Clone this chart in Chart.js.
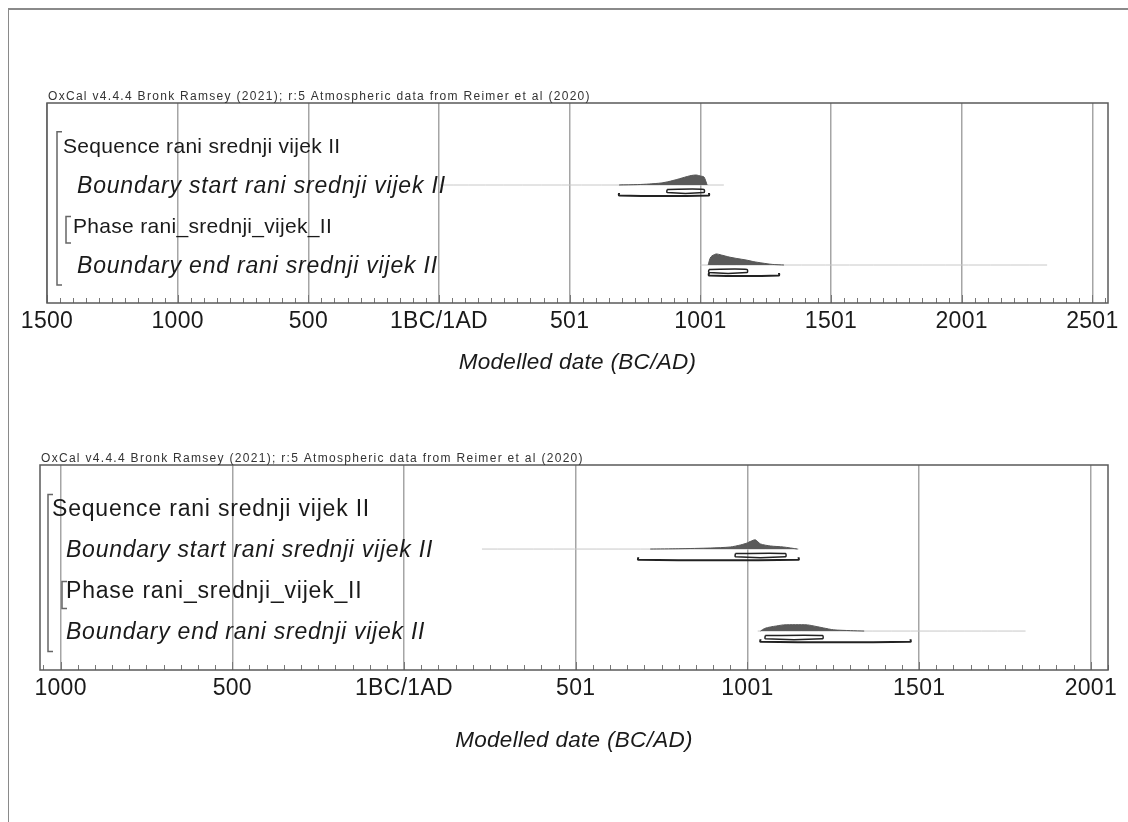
<!DOCTYPE html>
<html>
<head>
<meta charset="utf-8">
<title>OxCal model – rani srednji vijek II</title>
<script src="https://cdn.jsdelivr.net/npm/chart.js@4.4.0/dist/chart.umd.min.js"></script>
<style>
  html, body { margin: 0; padding: 0; background: #fff; }
  body { width: 1128px; height: 822px; position: relative; overflow: hidden; }
  .frame { position: absolute; left: 8px; top: 8px; right: 0; bottom: 0;
           border-top: 2px solid #8a8a8a; border-left: 1px solid #8a8a8a; }
  .plot { position: absolute; left: 0; width: 1128px; height: 320px; }
</style>
</head>
<body>
<div class="frame"></div>
<div class="plot" style="top:80px"><canvas id="modelA"></canvas></div>
<div class="plot" style="top:445px"><canvas id="modelB"></canvas></div>
<script>
// --- rows (same structure in both runs) ---
const rowLabels = [
  "Sequence rani srednji vijek II",
  "Boundary start rani srednji vijek II",
  "Phase rani_srednji_vijek_II",
  "Boundary end rani srednji vijek II"
];
const rowItalic = [false, true, false, true];
const header = "OxCal v4.4.4 Bronk Ramsey (2021); r:5 Atmospheric data from Reimer et al (2020)";

// --- run A (upper plot) ---
const aTicks = [-1500, -1000, -500, 0, 500, 1000, 1500, 2000, 2500];
const aTickLabels = ["1500", "1000", "500", "1BC/1AD", "501", "1001", "1501", "2001", "2501"];
const aRange = [-1500, 2560];

const aStartYears   = [689, 760, 804, 850, 880, 910, 930, 950, 965, 985, 1000, 1014, 1026];
const aStartDensity = [0, 0.04, 0.1, 0.2, 0.35, 0.55, 0.7, 0.85, 0.95, 1.0, 0.9, 0.8, 0];
const aStartPrior   = [0, 1090];
const aStart68      = [873, 1014];
const aStart95      = [689, 1033];

const aEndYears   = [1030, 1040, 1060, 1080, 1110, 1140, 1175, 1205, 1236, 1275, 1320];
const aEndDensity = [0, 0.8, 1.1, 1.0, 0.8, 0.65, 0.5, 0.33, 0.2, 0.06, 0];
const aEndPrior   = [1000, 2327];
const aEnd68      = [1033, 1179];
const aEnd95      = [1033, 1301];

// --- run B (lower plot) ---
const bTicks = [-1000, -500, 0, 500, 1000, 1500, 2000];
const bTickLabels = ["1000", "500", "1BC/1AD", "501", "1001", "1501", "2001"];
const bRange = [-1060, 2050];

const bStartYears   = [717, 800, 892, 950, 980, 1000, 1009, 1023, 1038, 1067, 1105, 1146];
const bStartDensity = [0, 0.03, 0.1, 0.2, 0.4, 0.6, 0.75, 0.9, 0.5, 0.3, 0.2, 0];
const bStartPrior   = [227, 1149];
const bStart68      = [965, 1111];
const bStart95      = [682, 1149];

const bEndYears   = [1038, 1050, 1067, 1085, 1105, 1140, 1175, 1200, 1222, 1251, 1300, 1340];
const bEndDensity = [0, 0.25, 0.4, 0.5, 0.6, 0.62, 0.6, 0.45, 0.3, 0.12, 0.04, 0];
const bEndPrior   = [1030, 1810];
const bEnd68      = [1052, 1219];
const bEnd95      = [1038, 1475];

const FONT = '"Liberation Sans", Arial, Helvetica, sans-serif';

// one posterior row: prior line, filled distribution, 68.3% box, 95.4% bar
function boundaryRow(row, years, density, prior, r68, r95) {
  const base = row + 0.05;
  const h = 0.25;
  return [
    {
      data: [{ x: r68[0], y: row + 0.16 }, { x: r68[1], y: row + 0.16 },
             { x: r68[1], y: row + 0.24 }, { x: r68[0], y: row + 0.24 },
             { x: r68[0], y: row + 0.16 }],
      borderColor: "#222", borderWidth: 1.5
    },
    {
      data: [{ x: r95[0], y: row + 0.25 }, { x: r95[0], y: row + 0.31 },
             { x: r95[1], y: row + 0.31 }, { x: r95[1], y: row + 0.25 }],
      borderColor: "#222", borderWidth: 2
    },
    {
      data: years.map((yr, i) => ({ x: yr, y: base - density[i] * h })),
      borderColor: "#555", borderWidth: 1, backgroundColor: "#5a5a5a",
      fill: { value: base }
    },
    {
      data: [{ x: prior[0], y: base }, { x: prior[1], y: base }],
      borderColor: "#c8c8c8", borderWidth: 1
    }
  ];
}

// frame, minor ticks, brackets, row names and header
const oxcalDecor = {
  id: "oxcalDecor",
  beforeDraw(chart) {
    chart.ctx.letterSpacing = "0.3px";
  },
  afterDraw(chart, args, opts) {
    const { ctx, chartArea: a, scales: { x, y } } = chart;
    ctx.save();

    // minor ticks every 50 years, pointing up from the axis
    ctx.strokeStyle = "#777";
    ctx.lineWidth = 1;
    ctx.beginPath();
    for (let v = Math.ceil(x.min / 50) * 50; v <= x.max; v += 50) {
      const px = Math.round(x.getPixelForValue(v)) + 0.5;
      ctx.moveTo(px, a.bottom);
      ctx.lineTo(px, a.bottom - (v % 500 === 0 ? 8 : 5));
    }
    ctx.stroke();

    // plot frame
    ctx.strokeStyle = "#5a5a5a";
    ctx.lineWidth = 1.5;
    ctx.strokeRect(a.left, a.top, a.right - a.left, a.bottom - a.top);

    // sequence / phase brackets
    ctx.strokeStyle = "#666";
    ctx.lineWidth = 1.5;
    opts.brackets.forEach(b => {
      const x0 = a.left + b.dx;
      ctx.beginPath();
      ctx.moveTo(x0 + b.tick, y.getPixelForValue(b.from));
      ctx.lineTo(x0, y.getPixelForValue(b.from));
      ctx.lineTo(x0, y.getPixelForValue(b.to));
      ctx.lineTo(x0 + b.tick, y.getPixelForValue(b.to));
      ctx.stroke();
    });

    // row names
    ctx.fillStyle = "#1a1a1a";
    ctx.textBaseline = "middle";
    rowLabels.forEach((name, i) => {
      const f = rowItalic[i] ? opts.italicFont : opts.plainFont;
      ctx.font = (rowItalic[i] ? "italic " : "") + f.size + "px " + FONT;
      ctx.letterSpacing = f.spacing + "px";
      ctx.fillText(name, a.left + opts.labelX[i], y.getPixelForValue(i + 1.1));
    });

    // header line above the frame
    ctx.font = "12px " + FONT;
    ctx.letterSpacing = "1.3px";
    ctx.textBaseline = "alphabetic";
    ctx.fillStyle = "#333";
    ctx.fillText(header, a.left + 1, a.top - 3);

    ctx.restore();
  }
};

function makeModelChart(id, ticks, tickLabels, range, rows, decor, pad, axisH, titlePad) {
  return new Chart(document.getElementById(id), {
    type: "scatter",
    data: { datasets: rows },
    plugins: [oxcalDecor],
    options: {
      responsive: true,
      maintainAspectRatio: false,
      animation: false,
      layout: { padding: pad },
      datasets: { scatter: { showLine: true, pointRadius: 0, tension: 0.25 } },
      plugins: { legend: { display: false }, tooltip: { enabled: false }, oxcalDecor: decor },
      scales: {
        x: {
          type: "linear",
          min: range[0],
          max: range[1],
          afterBuildTicks: s => { s.ticks = ticks.map(v => ({ value: v })); },
          afterFit: s => { s.height = axisH; },
          grid: { color: "#a5a5a5", lineWidth: 1.5, drawTicks: false },
          border: { display: false },
          ticks: {
            autoSkip: false,
            maxRotation: 0,
            padding: 5,
            color: "#1a1a1a",
            font: { family: FONT, size: 23 },
            callback: v => tickLabels[ticks.indexOf(v)]
          },
          title: {
            display: true,
            text: "Modelled date (BC/AD)",
            color: "#1a1a1a",
            font: { family: FONT, size: 22.5, style: "italic" },
            padding: { top: 4, bottom: titlePad }
          }
        },
        y: { type: "linear", display: false, reverse: true, min: 0, max: 5 }
      }
    }
  });
}

makeModelChart("modelA", aTicks, aTickLabels, aRange,
  [...boundaryRow(2, aStartYears, aStartDensity, aStartPrior, aStart68, aStart95),
   ...boundaryRow(4, aEndYears, aEndDensity, aEndPrior, aEnd68, aEnd95)],
  {
    labelX: [16, 30, 26, 30],
    plainFont: { size: 21, spacing: 0.3 },
    italicFont: { size: 23, spacing: 0.8 },
    brackets: [{ dx: 10, tick: 5, from: 0.72, to: 4.55 }, { dx: 19, tick: 5, from: 2.84, to: 3.5 }]
  },
  { top: 23, bottom: 17, left: 47, right: 20 }, 80, 7);

makeModelChart("modelB", bTicks, bTickLabels, bRange,
  [...boundaryRow(2, bStartYears, bStartDensity, bStartPrior, bStart68, bStart95),
   ...boundaryRow(4, bEndYears, bEndDensity, bEndPrior, bEnd68, bEnd95)],
  {
    labelX: [12, 26, 26, 26],
    plainFont: { size: 23, spacing: 0.8 },
    italicFont: { size: 23, spacing: 0.75 },
    brackets: [{ dx: 8, tick: 5, from: 0.72, to: 4.55 }, { dx: 22, tick: 5, from: 2.84, to: 3.5 }]
  },
  { top: 20, bottom: 5, left: 40, right: 20 }, 90, 6);
</script>
</body>
</html>
